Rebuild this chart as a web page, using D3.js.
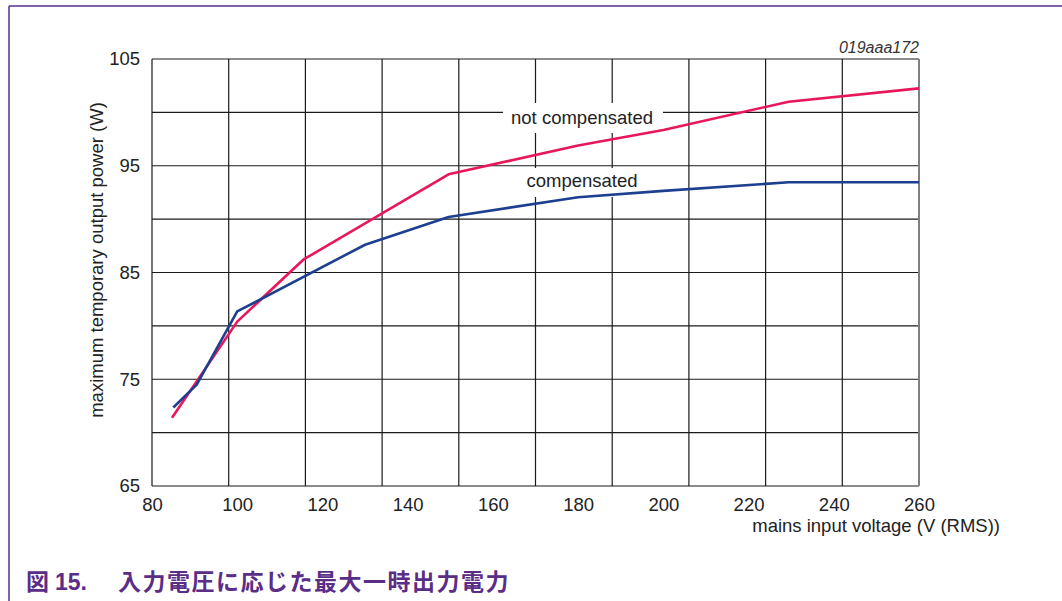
<!DOCTYPE html>
<html>
<head>
<meta charset="utf-8">
<script src="https://cdn.jsdelivr.net/npm/d3@7"></script>
<style>
  html, body { margin: 0; padding: 0; background: #ffffff; }
  svg { display: block; }
</style>
</head>
<body>
<svg id="chart" width="1062" height="601"></svg>
<script>
// Maximum temporary output power vs mains input voltage
const voltageTicks = [80, 100, 120, 140, 160, 180, 200, 220, 240, 260];
const powerTicks = [65, 75, 85, 95, 105];
const powerGrid = [65, 70, 75, 80, 85, 90, 95, 100, 105];

const notCompVoltage = [84.7, 100, 115.5, 149.6, 180, 200, 229.4, 260];
const notCompPower   = [71.4, 80.4, 86.2, 94.2, 96.9, 98.35, 101.0, 102.25];

const compVoltage = [85, 90.5, 100, 130, 149.6, 180, 200, 229.4, 260];
const compPower   = [72.35, 74.5, 81.35, 87.6, 90.2, 92.05, 92.65, 93.45, 93.45];

const seriesNames = ["not compensated", "compensated"];
const figureCode = "019aaa172";
const xTitle = "mains input voltage (V (RMS))";
const yTitle = "maximum temporary output power (W)";
const captionText = "入力電圧に応じた最大一時出力電力";

const svg = d3.select("#chart");
const plotLeft = 152, plotRight = 919, plotTop = 59, plotBottom = 486;

const x = d3.scaleLinear().domain([80, 260]).range([plotLeft, plotRight]);
const y = d3.scaleLinear().domain([65, 105]).range([plotBottom, plotTop]);
// vertical grid divides the voltage span into ten equal parts
const gridX = d3.scaleLinear().domain([0, 10]).range([plotLeft, plotRight]);

const font = "'Liberation Sans', Arial, sans-serif";

// page frame
svg.append("line").attr("x1", 9).attr("x2", 1062).attr("y1", 6).attr("y2", 6)
  .attr("stroke", "#5a2d87").attr("stroke-width", 1.5);
svg.append("line").attr("x1", 9).attr("x2", 9).attr("y1", 6).attr("y2", 601)
  .attr("stroke", "#5a2d87").attr("stroke-width", 1.5);

// grid
const grid = svg.append("g");
grid.selectAll("line.h").data(powerGrid).join("line").attr("class", "h")
  .attr("x1", plotLeft).attr("x2", plotRight)
  .attr("y1", d => y(d)).attr("y2", d => y(d))
  .attr("stroke", "#1a1a1a").attr("stroke-width", 1.2);
grid.selectAll("line.v").data(d3.range(0, 11)).join("line").attr("class", "v")
  .attr("x1", d => gridX(d)).attr("x2", d => gridX(d))
  .attr("y1", plotTop).attr("y2", plotBottom)
  .attr("stroke", d => d === 10 ? "#808080" : "#1a1a1a")
  .attr("stroke-width", d => d === 10 ? 2 : 1.2);

// axes (labels only; the grid provides the lines)
const xAxis = d3.axisBottom(x).tickValues(voltageTicks).tickSize(0).tickPadding(12);
const gx = svg.append("g").attr("transform", `translate(0,${plotBottom})`).call(xAxis);
gx.select(".domain").remove();
gx.selectAll("text").attr("font-family", font).attr("font-size", 18.5).attr("fill", "#222");

const yAxis = d3.axisLeft(y).tickValues(powerTicks).tickSize(0).tickPadding(12);
const gy = svg.append("g").attr("transform", `translate(${plotLeft},0)`).call(yAxis);
gy.select(".domain").remove();
gy.selectAll("text").attr("font-family", font).attr("font-size", 18.5).attr("fill", "#222");

// series labels with white boxes over the grid
function label(text, cx, baseline, box) {
  svg.append("rect").attr("x", box[0]).attr("y", box[1]).attr("width", box[2]).attr("height", box[3])
    .attr("fill", "#ffffff");
  svg.append("text").attr("x", cx).attr("y", baseline).attr("text-anchor", "middle")
    .attr("font-family", font).attr("font-size", 18.5).attr("fill", "#222").text(text);
}
label(seriesNames[0], 582, 124, [503, 103, 160, 30]);
label(seriesNames[1], 582, 187, [520, 168, 125, 29]);

// curves
const line = d3.line().x(d => x(d[0])).y(d => y(d[1]));
const notComp = notCompVoltage.map((v, i) => [v, notCompPower[i]]);
const comp = compVoltage.map((v, i) => [v, compPower[i]]);

svg.append("path").datum(notComp).attr("d", line)
  .attr("fill", "none").attr("stroke", "#e8175a").attr("stroke-width", 2.6)
  .attr("stroke-linejoin", "round");
svg.append("path").datum(comp).attr("d", line)
  .attr("fill", "none").attr("stroke", "#1c3f8f").attr("stroke-width", 2.6)
  .attr("stroke-linejoin", "round");

// figure code
svg.append("text").attr("x", plotRight).attr("y", 53).attr("text-anchor", "end")
  .attr("font-family", font).attr("font-style", "italic").attr("font-size", 16)
  .attr("fill", "#333").text(figureCode);

// axis titles
svg.append("text").attr("x", 1000).attr("y", 532).attr("text-anchor", "end")
  .attr("font-family", font).attr("font-size", 18.5).attr("fill", "#222").text(xTitle);
svg.append("text").attr("transform", "translate(103,260) rotate(-90)").attr("text-anchor", "middle")
  .attr("font-family", font).attr("font-size", 18.5).attr("fill", "#222").text(yTitle);

// caption
const cap = svg.append("text").attr("y", 590).attr("font-weight", "bold").attr("fill", "#5a2d87")
  .attr("font-family", "'Liberation Sans', 'Noto Sans CJK JP', sans-serif").attr("font-size", 23);
cap.append("tspan").attr("x", 26).attr("font-family", "'Noto Sans CJK JP', sans-serif").text("図");
cap.append("tspan").attr("x", 55).text("15.");
cap.append("tspan").attr("x", 118).attr("letter-spacing", 1.5)
  .attr("font-family", "'Noto Sans CJK JP', sans-serif").text(captionText);
</script>
</body>
</html>
